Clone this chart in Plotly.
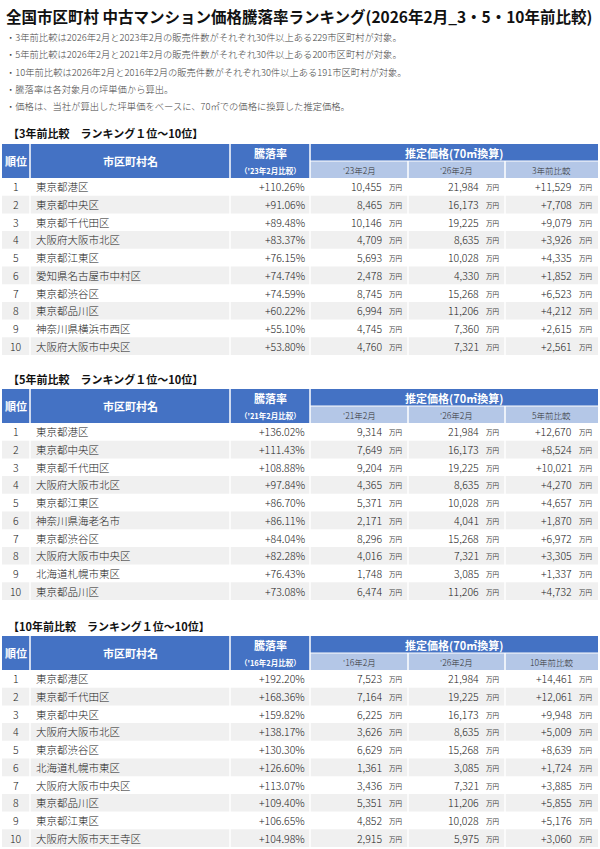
import plotly.graph_objects as go

FONT = "Noto Sans CJK JP"
title = "全国市区町村 中古マンション価格騰落率ランキング(2026年2月_3・5・10年前比較)"
notes = [
    "・3年前比較は2026年2月と2023年2月の販売件数がそれぞれ30件以上ある229市区町村が対象。",
    "・5年前比較は2026年2月と2021年2月の販売件数がそれぞれ30件以上ある200市区町村が対象。",
    "・10年前比較は2026年2月と2016年2月の販売件数がそれぞれ30件以上ある191市区町村が対象。",
    "・騰落率は各対象月の坪単価から算出。",
    "・価格は、当社が算出した坪単価をベースに、70㎡での価格に換算した推定価格。",
]

# Table 1: 3 years
t1_title = "【3年前比較　ランキング１位～10位】"
t1_sub = ["（'23年2月比較）", "'23年2月", "'26年2月", "3年前比較"]
t1_names = ["東京都港区", "東京都中央区", "東京都千代田区", "大阪府大阪市北区", "東京都江東区",
            "愛知県名古屋市中村区", "東京都渋谷区", "東京都品川区", "神奈川県横浜市西区", "大阪府大阪市中央区"]
t1_rate = ["+110.26%", "+91.06%", "+89.48%", "+83.37%", "+76.15%", "+74.74%", "+74.59%", "+60.22%", "+55.10%", "+53.80%"]
t1_old = ["10,455", "8,465", "10,146", "4,709", "5,693", "2,478", "8,745", "6,994", "4,745", "4,760"]
t1_new = ["21,984", "16,173", "19,225", "8,635", "10,028", "4,330", "15,268", "11,206", "7,360", "7,321"]
t1_diff = ["+11,529", "+7,708", "+9,079", "+3,926", "+4,335", "+1,852", "+6,523", "+4,212", "+2,615", "+2,561"]

# Table 2: 5 years
t2_title = "【5年前比較　ランキング１位～10位】"
t2_sub = ["（'21年2月比較）", "'21年2月", "'26年2月", "5年前比較"]
t2_names = ["東京都港区", "東京都中央区", "東京都千代田区", "大阪府大阪市北区", "東京都江東区",
            "神奈川県海老名市", "東京都渋谷区", "大阪府大阪市中央区", "北海道札幌市東区", "東京都品川区"]
t2_rate = ["+136.02%", "+111.43%", "+108.88%", "+97.84%", "+86.70%", "+86.11%", "+84.04%", "+82.28%", "+76.43%", "+73.08%"]
t2_old = ["9,314", "7,649", "9,204", "4,365", "5,371", "2,171", "8,296", "4,016", "1,748", "6,474"]
t2_new = ["21,984", "16,173", "19,225", "8,635", "10,028", "4,041", "15,268", "7,321", "3,085", "11,206"]
t2_diff = ["+12,670", "+8,524", "+10,021", "+4,270", "+4,657", "+1,870", "+6,972", "+3,305", "+1,337", "+4,732"]

# Table 3: 10 years
t3_title = "【10年前比較　ランキング１位～10位】"
t3_sub = ["（'16年2月比較）", "'16年2月", "'26年2月", "10年前比較"]
t3_names = ["東京都港区", "東京都千代田区", "東京都中央区", "大阪府大阪市北区", "東京都渋谷区",
            "北海道札幌市東区", "大阪府大阪市中央区", "東京都品川区", "東京都江東区", "大阪府大阪市天王寺区"]
t3_rate = ["+192.20%", "+168.36%", "+159.82%", "+138.17%", "+130.30%", "+126.60%", "+113.07%", "+109.40%", "+106.65%", "+104.98%"]
t3_old = ["7,523", "7,164", "6,225", "3,626", "6,629", "1,361", "3,436", "5,351", "4,852", "2,915"]
t3_new = ["21,984", "19,225", "16,173", "8,635", "15,268", "3,085", "7,321", "11,206", "10,028", "5,975"]
t3_diff = ["+14,461", "+12,061", "+9,948", "+5,009", "+8,639", "+1,724", "+3,885", "+5,855", "+5,176", "+3,060"]

tables = [
    (t1_title, t1_sub, t1_names, t1_rate, t1_old, t1_new, t1_diff, 133, 144),
    (t2_title, t2_sub, t2_names, t2_rate, t2_old, t2_new, t2_diff, 379, 389),
    (t3_title, t3_sub, t3_names, t3_rate, t3_old, t3_new, t3_diff, 626, 636),
]

DARK = "#4472c4"
LIGHT = "#b4c7e7"
ALT = "#f0f0f0"
TXT = "#222222"
cols = [2, 30, 230, 310, 408, 505, 598]
HH = 34
RH = 17.7

fig = go.Figure()
shapes, ann = [], []

def txt(x, y, s, size, color=TXT, xa="left", bold=False, weight=None):
    f = dict(family=FONT, size=size, color=color)
    if weight:
        f["weight"] = weight
    ann.append(dict(x=x, y=y, text=f"<b>{s}</b>" if bold else s, showarrow=False, xanchor=xa,
                    yanchor="middle", font=f))

def rect(x0, y0, x1, y1, color):
    shapes.append(dict(type="rect", x0=x0, y0=y0, x1=x1, y1=y1, fillcolor=color, line=dict(width=0), layer="below"))

txt(4, 16, title, 15.5, "#111", bold=True)
for i, n in enumerate(notes):
    txt(4, 37 + 17.3 * i, n, 9.3, "#444", weight=300)

for (tt, sub, names, rate, old, new, diff, ty, hy) in tables:
    txt(6, ty, tt, 11, "#111", bold=True)
    mid = hy + HH / 2
    rect(cols[0], hy, cols[3], hy + HH, DARK)
    rect(cols[3], hy, cols[6], mid, DARK)
    rect(cols[3], mid, cols[6], hy + HH, LIGHT)
    txt(16, mid, "順位", 11, "white", "center", True)
    txt(130, mid, "市区町村名", 11, "white", "center", True)
    txt(270, hy + 9, "騰落率", 11, "white", "center", True)
    txt(270, hy + 26, sub[0], 7.5, "white", "center", True)
    txt(454, hy + 9, "推定価格(70㎡換算)", 11, "white", "center", True)
    for k in range(3):
        txt((cols[3 + k] + cols[4 + k]) / 2, hy + 26, sub[1 + k], 8.5, "#333", "center", weight=300)
    y0 = hy + HH
    for r in range(10):
        top = y0 + RH * r
        cy = top + RH / 2
        if r % 2 == 1:
            rect(cols[0], top, cols[6], top + RH, ALT)
        txt(16, cy, str(r + 1), 10.5, TXT, "center", weight=300)
        txt(34, cy, names[r], 10.5, weight=300)
        txt(307, cy, rate[r], 10.5, TXT, "right", weight=300)
        for k, v in enumerate([old[r], new[r], diff[r]]):
            right = cols[4 + k]
            txt(right - 24, cy, v, 10.5, TXT, "right", weight=300)
            txt(right - 21, cy + 0.5, "万円", 6.5, "#444")
    for c in cols[1:6]:
        yy0 = hy if c != cols[4] and c != cols[5] else mid
        shapes.append(dict(type="line", x0=c, x1=c, y0=yy0, y1=y0 + RH * 10, line=dict(color="white", width=1.5)))
    shapes.append(dict(type="line", x0=cols[3], x1=cols[6], y0=mid, y1=mid, line=dict(color="white", width=1)))

fig.update_layout(
    width=600, height=849, margin=dict(l=0, r=0, t=0, b=0),
    paper_bgcolor="white", plot_bgcolor="white",
    xaxis=dict(range=[0, 600], visible=False, fixedrange=True),
    yaxis=dict(range=[849, 0], visible=False, fixedrange=True),
    shapes=shapes, annotations=ann, showlegend=False,
)
fig.write_html("out.html", config={"displayModeBar": False},
               post_script="document.body.style.margin='0';document.body.style.overflow='hidden';")
